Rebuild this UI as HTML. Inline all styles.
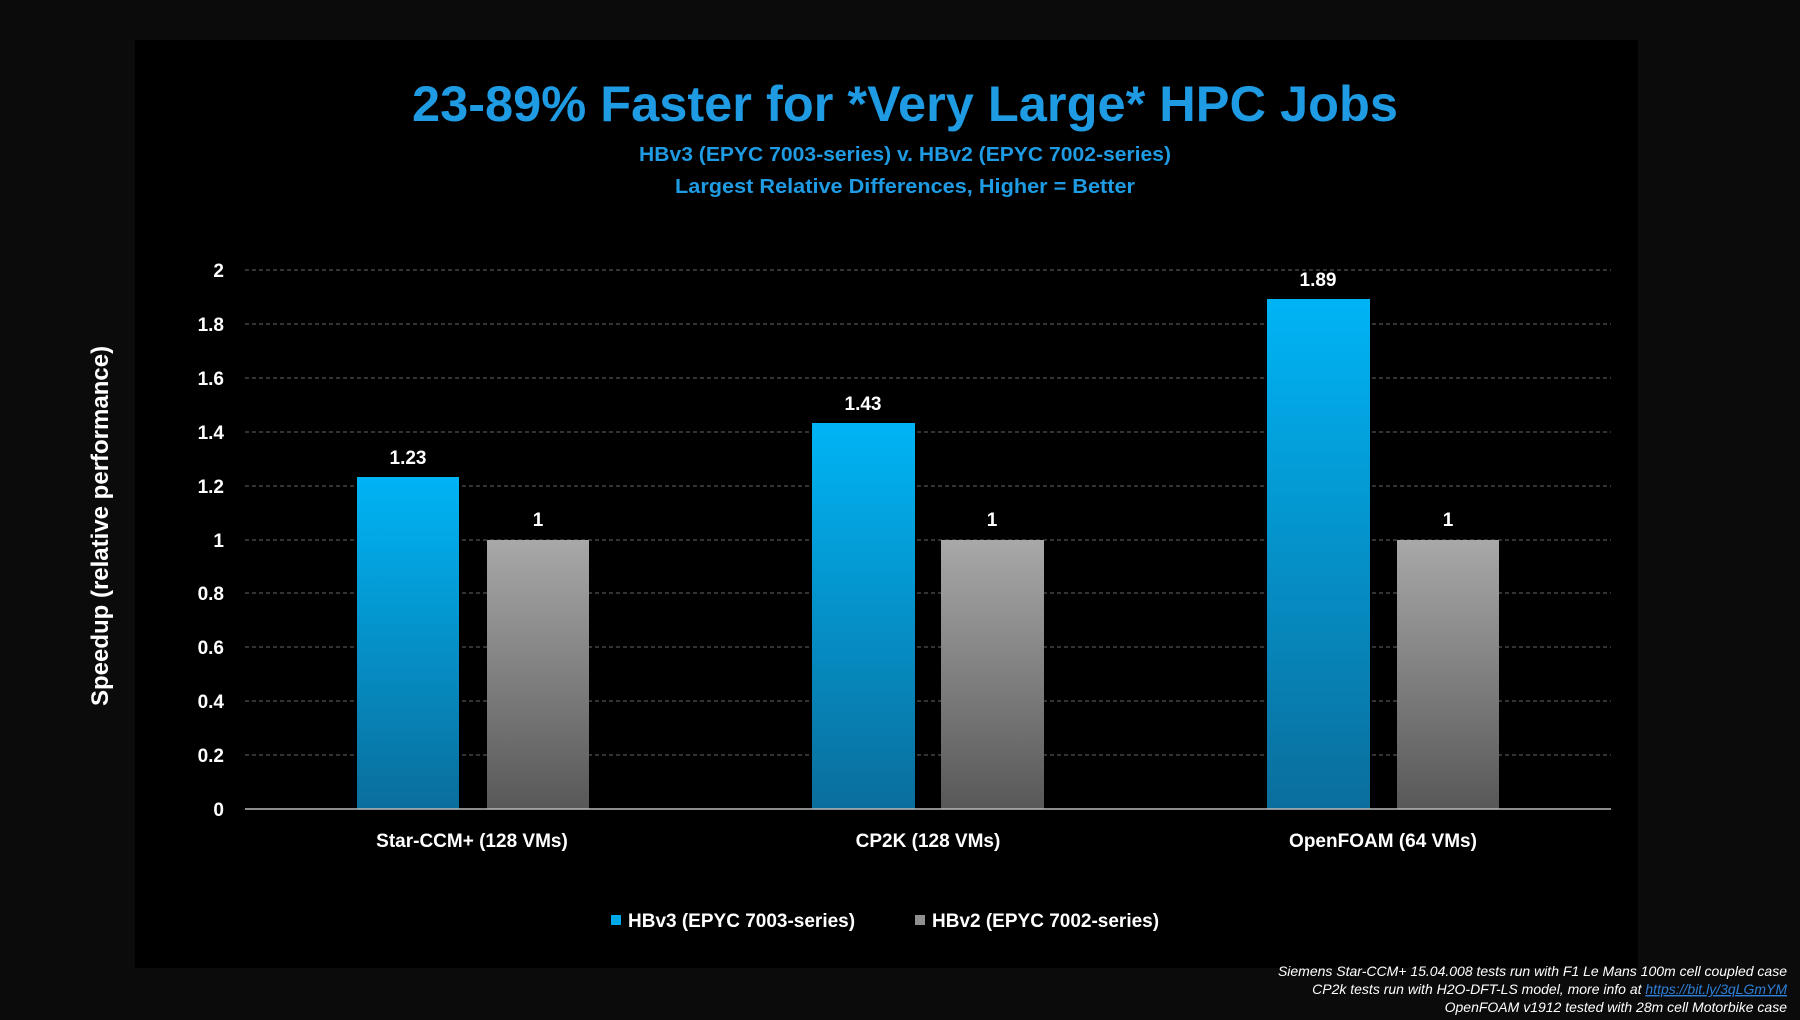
<!DOCTYPE html>
<html><head><meta charset="utf-8"><style>
html,body{margin:0;padding:0;background:#0b0b0b;}
svg{display:block;font-family:"Liberation Sans","DejaVu Sans",sans-serif;}
</style></head><body>
<svg width="1800" height="1020" viewBox="0 0 1800 1020" xmlns="http://www.w3.org/2000/svg">
<defs>
<linearGradient id="gb" x1="0" y1="0" x2="0" y2="1"><stop offset="0" stop-color="#00b4f5"/><stop offset="1" stop-color="#0a6e9c"/></linearGradient>
<linearGradient id="gg" x1="0" y1="0" x2="0" y2="1"><stop offset="0" stop-color="#a8a8a8"/><stop offset="1" stop-color="#585858"/></linearGradient>
</defs>
<rect x="0" y="0" width="1800" height="1020" fill="#0b0b0b"/>
<rect x="135" y="40" width="1503" height="928" fill="#000"/>
<text x="905" y="121" text-anchor="middle" font-size="50" font-weight="bold" fill="#1e9be3" textLength="986" lengthAdjust="spacingAndGlyphs">23-89% Faster for *Very Large* HPC Jobs</text>
<text x="905" y="161" text-anchor="middle" font-size="20" font-weight="bold" fill="#1e9be3" textLength="532" lengthAdjust="spacingAndGlyphs">HBv3 (EPYC 7003-series) v. HBv2 (EPYC 7002-series)</text>
<text x="905" y="193" text-anchor="middle" font-size="20" font-weight="bold" fill="#1e9be3" textLength="460" lengthAdjust="spacingAndGlyphs">Largest Relative Differences, Higher = Better</text>
<g stroke="#666" stroke-width="1" stroke-dasharray="4,3">
<line x1="245" x2="1611" y1="270" y2="270"/><line x1="245" x2="1611" y1="324" y2="324"/>
<line x1="245" x2="1611" y1="378" y2="378"/><line x1="245" x2="1611" y1="432" y2="432"/>
<line x1="245" x2="1611" y1="486" y2="486"/><line x1="245" x2="1611" y1="540" y2="540"/>
<line x1="245" x2="1611" y1="593" y2="593"/><line x1="245" x2="1611" y1="647" y2="647"/>
<line x1="245" x2="1611" y1="701" y2="701"/><line x1="245" x2="1611" y1="755" y2="755"/>
</g>
<g font-size="19" font-weight="bold" fill="#fff" text-anchor="end">
<text x="224" y="277">2</text><text x="224" y="331">1.8</text><text x="224" y="385">1.6</text>
<text x="224" y="439">1.4</text><text x="224" y="493">1.2</text><text x="224" y="547">1</text>
<text x="224" y="600">0.8</text><text x="224" y="654">0.6</text><text x="224" y="708">0.4</text>
<text x="224" y="762">0.2</text><text x="224" y="816">0</text>
</g>
<rect x="357" y="477" width="102" height="332" fill="url(#gb)"/>
<rect x="487" y="540" width="102" height="269" fill="url(#gg)"/>
<rect x="812" y="423" width="103" height="386" fill="url(#gb)"/>
<rect x="941" y="540" width="103" height="269" fill="url(#gg)"/>
<rect x="1267" y="299" width="103" height="510" fill="url(#gb)"/>
<rect x="1397" y="540" width="102" height="269" fill="url(#gg)"/>
<line x1="245" x2="1611" y1="809" y2="809" stroke="#bbb" stroke-width="1.5"/>
<g font-size="19" font-weight="bold" fill="#fff" text-anchor="middle">
<text x="408" y="464">1.23</text><text x="538" y="526">1</text>
<text x="863" y="410">1.43</text><text x="992" y="526">1</text>
<text x="1318" y="286">1.89</text><text x="1448" y="526">1</text>
</g>
<g font-size="19" font-weight="bold" fill="#fff" text-anchor="middle">
<text x="472" y="847">Star-CCM+ (128 VMs)</text>
<text x="928" y="847">CP2K (128 VMs)</text>
<text x="1383" y="847">OpenFOAM (64 VMs)</text>
</g>
<text transform="translate(108,526) rotate(-90)" text-anchor="middle" font-size="24" font-weight="bold" fill="#fff">Speedup (relative performance)</text>
<rect x="611" y="915" width="10" height="10" fill="#00a8e8"/>
<text x="628" y="927" font-size="19" font-weight="bold" fill="#fff">HBv3 (EPYC 7003-series)</text>
<rect x="915" y="915" width="10" height="10" fill="#909090"/>
<text x="932" y="927" font-size="19" font-weight="bold" fill="#fff">HBv2 (EPYC 7002-series)</text>
<g font-size="14" font-style="italic" fill="#fff" text-anchor="end">
<text x="1787" y="976">Siemens Star-CCM+ 15.04.008 tests run with F1 Le Mans 100m cell coupled case</text>
<text x="1787" y="994">CP2k tests run with H2O-DFT-LS model, more info at <tspan fill="#2e7fd8" text-decoration="underline">https://bit.ly/3qLGmYM</tspan></text>
<text x="1787" y="1012">OpenFOAM v1912 tested with 28m cell Motorbike case</text>
</g>
</svg>
</body></html>
